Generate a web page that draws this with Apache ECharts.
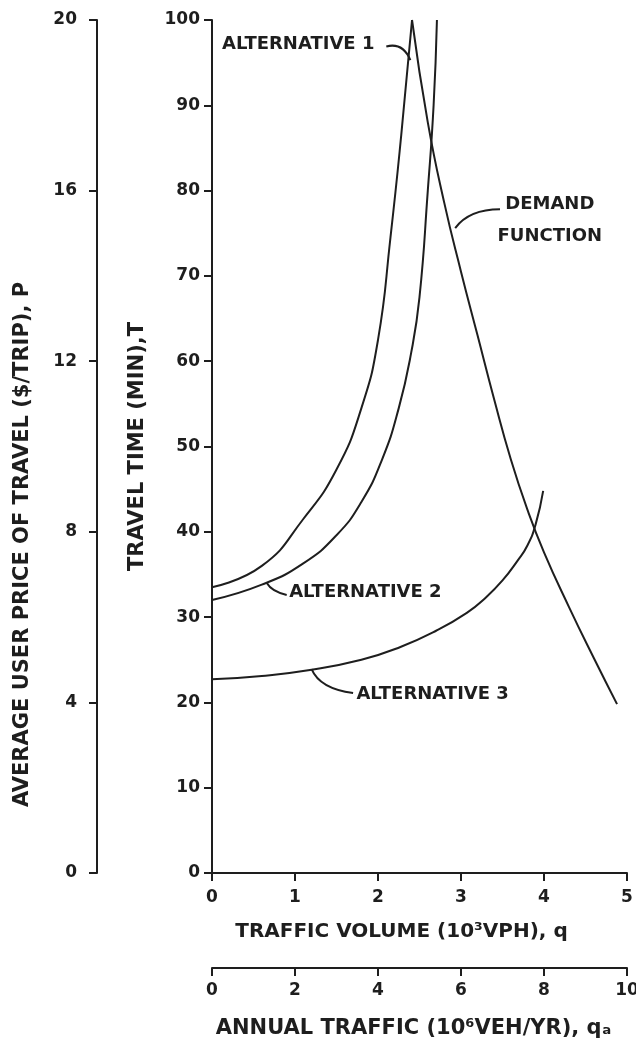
<!DOCTYPE html>
<html>
<head>
<meta charset="utf-8">
<script src="https://cdn.jsdelivr.net/npm/echarts@6/dist/echarts.min.js"></script>
<style>
html,body{margin:0;padding:0;background:#fff;overflow:hidden;}
#c{width:636px;height:1046px;}
</style>
</head>
<body>
<div id="c"></div>
<script>
// ---- data ----
const alt1Q = [0, 0.6, 1.1, 1.5, 1.8, 2.0, 2.15, 2.28, 2.41];
const alt1T = [33.5, 36, 41.5, 47.3, 54.5, 62.5, 74.5, 86.5, 100];
const alt2Q = [0, 0.6, 1.1, 1.5, 1.8, 2.05, 2.25, 2.4, 2.5, 2.6, 2.67, 2.71];
const alt2T = [32, 33.8, 36.3, 39.6, 43.5, 48.5, 54.5, 61, 67.5, 80, 90, 100];
const alt3Q = [0, 0.6, 1.18, 1.8, 2.27, 2.7, 3.07, 3.3, 3.5, 3.68, 3.8, 3.9, 3.99];
const alt3T = [22.7, 23.1, 23.8, 25, 26.5, 28.4, 30.5, 32.3, 34.3, 36.6, 38.4, 40.9, 44.8];
const demandQ = [2.41, 2.6, 2.8, 3.0, 3.2, 3.4, 3.6, 3.8, 4.0, 4.3, 4.6, 4.88];
const demandT = [100, 88, 78.5, 70.5, 63, 55.5, 48.5, 42.6, 37.6, 31.2, 25.2, 19.8];

const volumeTicks = {min: 0, max: 5, interval: 1};
const annualTicks = {min: 0, max: 10, interval: 2};
const timeTicks = {min: 0, max: 100, interval: 10};
const priceTicks = {min: 0, max: 20, interval: 4};

const xName1 = 'TRAFFIC VOLUME (10³VPH), q';
const xName2 = 'ANNUAL TRAFFIC (10⁶VEH/YR), qₐ';
const yName1 = 'TRAVEL TIME (MIN),T';
const yName2 = 'AVERAGE USER PRICE OF TRAVEL ($/TRIP), P';

// annotations: text, text anchor (data coords), leader from/ctrl/to (data coords)
const notes = [
  {text: 'ALTERNATIVE 1', at: [0.12, 97.2], align: 'left', from: [2.1, 96.9], ctrl: [2.3, 97.4], to: [2.39, 95.3]},
  {text: 'DEMAND\nFUNCTION', at: [4.07, 76.5], align: 'center', from: [3.47, 77.8], ctrl: [3.1, 77.8], to: [2.93, 75.6]},
  {text: 'ALTERNATIVE 2', at: [0.93, 32.9], align: 'left', from: [0.66, 34.0], ctrl: [0.72, 33.0], to: [0.9, 32.6]},
  {text: 'ALTERNATIVE 3', at: [1.74, 21.0], align: 'left', from: [1.2, 23.9], ctrl: [1.3, 21.6], to: [1.7, 21.1]}
];

const FONT = 'DejaVu Sans';
const INK = '#1e1e1e';
const pairs = (xs, ys) => xs.map((x, i) => [x, ys[i]]);

const chart = echarts.init(document.getElementById('c'), null, {renderer: 'canvas'});
const txt = size => ({color: INK, fontFamily: FONT, fontWeight: 'bold', fontSize: size});
const axisCommon = {
  type: 'value',
  axisLine: {show: true, onZero: false, lineStyle: {color: INK, width: 2}},
  axisTick: {show: true, inside: false, length: 8, lineStyle: {color: INK, width: 2}},
  splitLine: {show: false},
  axisLabel: txt(17),
  nameTextStyle: txt(20)
};
const lineSeries = (name, xs, ys) => ({
  name, type: 'line', xAxisIndex: 0, yAxisIndex: 0,
  data: pairs(xs, ys), smooth: 0.5, symbol: 'none',
  lineStyle: {color: INK, width: 2}, silent: true, animation: false
});

chart.setOption({
  animation: false,
  backgroundColor: '#fff',
  grid: {left: 212, right: 9, top: 20, bottom: 173, containLabel: false, outerBoundsMode: 'none'},
  xAxis: [
    Object.assign({}, axisCommon, volumeTicks, {
      position: 'bottom', name: xName1, nameLocation: 'middle', nameGap: 49,
      axisLabel: Object.assign(txt(17), {margin: 16}),
      nameTextStyle: Object.assign(txt(20), {padding: [0, 36, 0, 0]})
    }),
    Object.assign({}, axisCommon, annualTicks, {
      position: 'bottom', offset: 95, name: xName2, nameLocation: 'middle', nameGap: 50,
      axisLabel: Object.assign(txt(17), {margin: 14}),
      nameTextStyle: Object.assign(txt(21), {padding: [0, 12, 0, 0]})
    })
  ],
  yAxis: [
    Object.assign({}, axisCommon, timeTicks, {
      position: 'left', name: yName1, nameLocation: 'middle', nameGap: 64, nameRotate: 90,
      axisLabel: Object.assign(txt(17), {margin: 12}),
      nameTextStyle: txt(21)
    }),
    Object.assign({}, axisCommon, priceTicks, {
      position: 'left', offset: 115, name: yName2, nameLocation: 'middle', nameGap: 64, nameRotate: 90,
      axisLabel: Object.assign(txt(17), {margin: 20}),
      nameTextStyle: Object.assign(txt(21), {padding: [0, 196, 0, 0]})
    })
  ],
  series: [
    lineSeries('Alternative 1', alt1Q, alt1T),
    lineSeries('Alternative 2', alt2Q, alt2T),
    lineSeries('Alternative 3', alt3Q, alt3T),
    lineSeries('Demand function', demandQ, demandT)
  ]
});

const px = p => chart.convertToPixel({xAxisIndex: 0, yAxisIndex: 0}, p);
const graphics = [];
notes.forEach(n => {
  const a = px(n.at), f = px(n.from), c = px(n.ctrl), t = px(n.to);
  graphics.push({
    type: 'text', x: a[0], y: a[1], silent: true,
    style: {text: n.text, fill: INK, font: 'bold 18px "' + FONT + '"', textAlign: n.align, textVerticalAlign: 'middle', lineHeight: 32}
  });
  graphics.push({
    type: 'bezierCurve', silent: true,
    shape: {x1: f[0], y1: f[1], cpx1: c[0], cpy1: c[1], x2: t[0], y2: t[1]},
    style: {stroke: INK, lineWidth: 2, fill: null}
  });
});
chart.setOption({graphic: graphics});
</script>
</body>
</html>
